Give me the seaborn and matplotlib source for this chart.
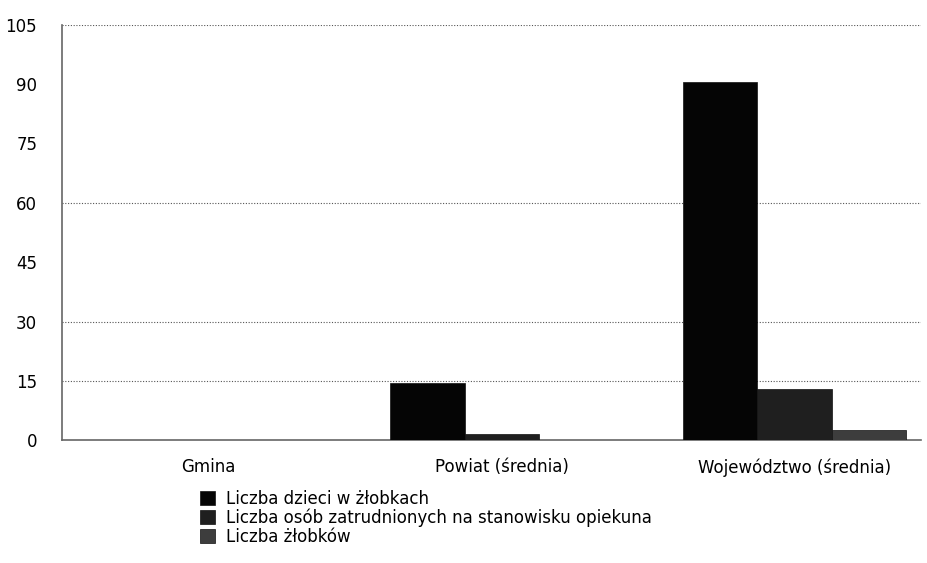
import pandas as pd
import matplotlib
matplotlib.use("Agg")
import matplotlib.pyplot as plt
import seaborn as sns

# values
units = ["Gmina", "Powiat (średnia)", "Województwo (średnia)"]
series = ["Liczba dzieci w żłobkach",
          "Liczba osób zatrudnionych na stanowisku opiekuna",
          "Liczba żłobków"]
dzieci = [0, 14.4, 90.6]
opiekunowie = [0, 1.7, 12.9]
zlobki = [0, 0, 2.5]
y_ticks = [0, 15, 30, 45, 60, 75, 90, 105]
grid_levels = [15, 30, 60, 105]  # only these gridlines are visible in the scan

df = pd.DataFrame({
    "unit": units * 3,
    "series": [s for s in series for _ in units],
    "value": dzieci + opiekunowie + zlobki,
})

sns.set_theme(style="white")
plt.rcParams["font.family"] = ["DejaVu Sans"]
plt.rcParams["text.color"] = "black"

fig = plt.figure(figsize=(9.28, 5.63), dpi=100)
ax = fig.add_axes([0.067, 0.218, 0.925, 0.738])

palette = ["#050505", "#1f1f1f", "#3d3d3d"]
sns.barplot(data=df, x="unit", y="value", hue="series", hue_order=series,
            order=units, palette=palette, width=0.76, saturation=1,
            edgecolor="#111111", linewidth=0.5, ax=ax, zorder=3)

for lvl in grid_levels:
    ax.axhline(lvl, color="#555555", linestyle=(0, (1, 1.5)), linewidth=0.8, zorder=1)

ax.set_ylim(0, 105)
ax.set_yticks(y_ticks)
ax.set_xlim(-0.5, 2.43)
ax.set_xlabel("")
ax.set_ylabel("")
ax.tick_params(axis="both", length=0, labelsize=12, colors="black")
ax.tick_params(axis="x", pad=13)
ax.tick_params(axis="y", pad=18)

for side in ["top", "right"]:
    ax.spines[side].set_visible(False)
for side in ["left", "bottom"]:
    ax.spines[side].set_color("#666666")
    ax.spines[side].set_linewidth(1.2)

handles, labels = ax.get_legend_handles_labels()
ax.legend_.remove()
fig.legend(handles, labels, loc="upper left", bbox_to_anchor=(0.206, 0.145),
           frameon=False, fontsize=12, handlelength=0.9, handleheight=0.9,
           handletextpad=0.7, labelspacing=0.05, borderpad=0)

fig.savefig("out.png", dpi=100)
